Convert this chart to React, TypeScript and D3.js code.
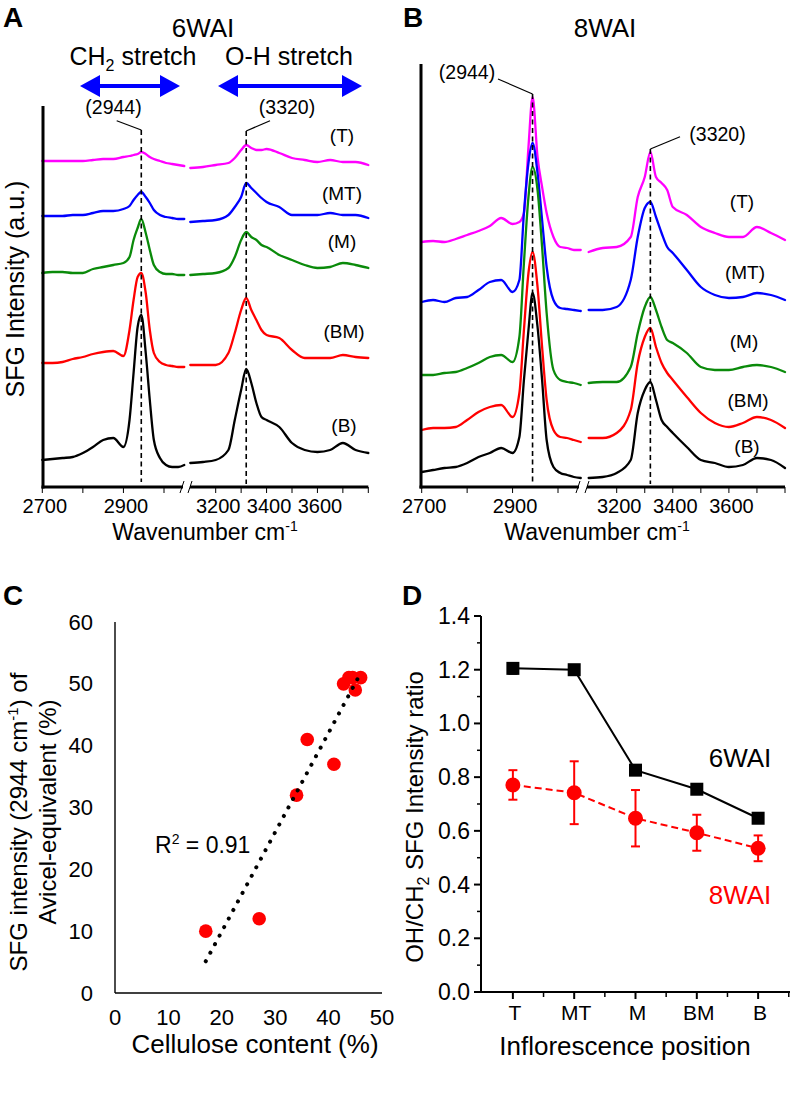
import React from "react";
import * as d3 from "d3";

const FONT = "'Liberation Sans', Arial, Helvetica, sans-serif";

// ---------- Panels A & B: SFG spectra (wavenumber samples, a.u. heights) ----------
const LEFT_WN = [2700, 2725, 2750, 2775, 2800, 2825, 2850, 2875, 2900, 2915, 2925, 2935, 2944, 2955, 2965, 2975, 2990, 3005, 3020, 3035, 3050];
const RIGHT_WN = [3100, 3150, 3200, 3250, 3275, 3300, 3320, 3340, 3360, 3380, 3400, 3450, 3500, 3550, 3600, 3650, 3700, 3750, 3800];

const SERIES_NAMES = ["(T)", "(MT)", "(M)", "(BM)", "(B)"];
const SERIES_COLORS = ["#ff00ff", "#0000ff", "#0a8a0a", "#ff0000", "#000000"];

// 6WAI (panel A)
const A_T_L = [326, 326, 326, 326, 326, 327, 328, 328, 330, 331, 332, 333, 335, 333, 330, 328, 326, 324, 323, 322, 321];
const A_T_R = [319, 320, 322, 324, 329, 337, 342, 339, 337, 337, 338, 334, 329, 327, 325, 327, 325, 325, 322];
const A_MT_L = [271, 271, 271, 272, 272, 274, 276, 276, 278, 281, 287, 292, 295, 290, 284, 277, 272, 270, 269, 268, 268];
const A_MT_R = [265, 266, 267, 272, 280, 290, 304, 299, 294, 289, 285, 280, 272, 272, 272, 274, 272, 272, 269];
const A_M_L = [214, 215, 215, 214, 214, 218, 220, 222, 224, 230, 247, 259, 268, 254, 237, 222, 215, 213, 213, 212, 212];
const A_M_R = [212, 213, 214, 219, 230, 247, 255, 250, 247, 242, 240, 232, 227, 222, 219, 220, 224, 222, 219];
const A_BM_L = [124, 124, 125, 128, 130, 133, 135, 136, 131, 157, 187, 210, 214, 194, 157, 134, 125, 122, 121, 120, 120];
const A_BM_R = [122, 122, 122, 134, 154, 177, 189, 177, 167, 157, 152, 149, 137, 129, 129, 129, 132, 130, 129];
const A_B_L = [27, 28, 29, 30, 34, 40, 47, 49, 40, 67, 114, 160, 172, 134, 87, 47, 29, 22, 20, 20, 22];
const A_B_R = [24, 25, 27, 37, 67, 97, 118, 104, 84, 70, 67, 60, 44, 37, 35, 37, 44, 37, 34];

// 8WAI (panel B)
const B_T_L = [245, 246, 245, 248, 252, 256, 261, 269, 263, 265, 274, 340, 390, 330, 300, 274, 250, 240, 239, 237, 237];
const B_T_R = [235, 239, 240, 250, 290, 310, 335, 310, 304, 297, 280, 272, 260, 254, 250, 250, 260, 254, 247];
const B_MT_L = [185, 187, 185, 189, 190, 197, 205, 207, 195, 207, 274, 324, 344, 314, 267, 220, 187, 179, 178, 177, 176];
const B_MT_R = [177, 177, 180, 207, 250, 279, 285, 270, 254, 240, 234, 217, 200, 192, 189, 190, 194, 192, 187];
const B_M_L = [112, 112, 114, 115, 119, 124, 130, 132, 125, 150, 224, 290, 320, 297, 240, 174, 117, 107, 105, 104, 102];
const B_M_R = [104, 105, 105, 120, 154, 180, 190, 177, 160, 147, 144, 134, 120, 117, 117, 120, 122, 120, 115];
const B_BM_L = [57, 59, 59, 60, 67, 75, 80, 82, 70, 94, 157, 214, 235, 200, 140, 87, 57, 50, 49, 47, 45];
const B_BM_R = [49, 49, 54, 77, 124, 150, 159, 140, 124, 114, 107, 90, 74, 64, 60, 64, 70, 67, 59];
const B_B_L = [15, 17, 19, 20, 24, 30, 34, 39, 34, 50, 107, 157, 194, 160, 107, 47, 20, 14, 12, 10, 9];
const B_B_R = [9, 10, 14, 27, 74, 97, 105, 87, 67, 60, 54, 40, 27, 24, 20, 22, 29, 27, 19];

const LEFT_TICKS = [2700, 2800, 2900, 3000];
const RIGHT_TICKS = [3200, 3300, 3400, 3500, 3600, 3700, 3800];
const LEFT_LABELS = [2700, 2900];
const RIGHT_LABELS = [3200, 3400, 3600];
const PEAKS = [2944, 3320];

// ---------- Panel C ----------
const C_CELLULOSE = [17, 27, 34, 36, 41, 42.8, 43.8, 45, 46, 44.5];
const C_SFG = [10, 12, 32, 41, 37, 50, 51, 49, 51, 51];
const C_XTICKS = [0, 10, 20, 30, 40, 50];
const C_YTICKS = [0, 10, 20, 30, 40, 50, 60];

// ---------- Panel D ----------
const POSITIONS = ["T", "MT", "M", "BM", "B"];
const WAI6 = [1.205, 1.2, 0.826, 0.755, 0.647];
const WAI6_ERR = [0.02, 0.015, 0.01, 0.01, 0.01];
const WAI8 = [0.771, 0.742, 0.647, 0.593, 0.535];
const WAI8_ERR = [0.055, 0.117, 0.105, 0.067, 0.048];
const D_YTICKS = [0, 0.2, 0.4, 0.6, 0.8, 1.0, 1.2, 1.4];

type Lin = d3.ScaleLinear<number, number>;

function Spectrum({ xl, xr, y, left, right, color }: { xl: Lin; xr: Lin; y: Lin; left: number[]; right: number[]; color: string }) {
  const line = d3.line<[number, number]>().curve(d3.curveMonotoneX);
  const lp = line(LEFT_WN.map((w, i) => [xl(w), y(left[i])] as [number, number])) || "";
  const rp = line(RIGHT_WN.map((w, i) => [xr(w), y(right[i])] as [number, number])) || "";
  return (
    <g fill="none" stroke={color} strokeWidth={2.3} strokeLinejoin="round" strokeLinecap="round">
      <path d={lp} />
      <path d={rp} />
    </g>
  );
}

function DoubleArrow({ x1, x2, y }: { x1: number; x2: number; y: number }) {
  const hl = 20, hh = 11;
  return (
    <g fill="#0000ff" stroke="none">
      <rect x={x1 + hl - 2} y={y - 2} width={x2 - x1 - 2 * hl + 4} height={4} />
      <polygon points={`${x1},${y} ${x1 + hl},${y - hh} ${x1 + hl},${y + hh}`} />
      <polygon points={`${x2},${y} ${x2 - hl},${y - hh} ${x2 - hl},${y + hh}`} />
    </g>
  );
}

type SpecCfg = {
  axisX: number;
  axisTop: number;
  axisY: number;
  xl: Lin;
  xr: Lin;
  y: Lin;
  breakL: number;
  breakR: number;
  data: [number[], number[]][];
  dash: [number, number][];
  labels: [number, number][];
};

function SpectraPanel({ cfg }: { cfg: SpecCfg }) {
  const { axisX, axisTop, axisY, xl, xr, y, breakL, breakR } = cfg;
  const xEnd = xr(3800);
  return (
    <g>
      {cfg.data.map((d, i) => (
        <Spectrum key={i} xl={xl} xr={xr} y={y} left={d[0]} right={d[1]} color={SERIES_COLORS[i]} />
      ))}
      <line x1={xl(PEAKS[0])} x2={xl(PEAKS[0])} y1={cfg.dash[0][0]} y2={cfg.dash[0][1]} stroke="#000" strokeWidth={1.6} strokeDasharray="5 3.5" />
      <line x1={xr(PEAKS[1])} x2={xr(PEAKS[1])} y1={cfg.dash[1][0]} y2={cfg.dash[1][1]} stroke="#000" strokeWidth={1.6} strokeDasharray="5 3.5" />
      <line x1={axisX} x2={axisX} y1={axisTop} y2={axisY + 1.5} stroke="#000" strokeWidth={3} />
      <line x1={axisX - 1.5} x2={breakL} y1={axisY} y2={axisY} stroke="#000" strokeWidth={3} />
      <line x1={breakR} x2={xEnd} y1={axisY} y2={axisY} stroke="#000" strokeWidth={3} />
      <line x1={breakL - 3} x2={breakL + 1} y1={axisY + 6} y2={axisY - 6} stroke="#000" strokeWidth={1} />
      <line x1={breakR - 2} x2={breakR + 2} y1={axisY + 6} y2={axisY - 6} stroke="#000" strokeWidth={1} />
      {LEFT_TICKS.map((t) => (
        <line key={"lt" + t} x1={xl(t)} x2={xl(t)} y1={axisY} y2={axisY + 6} stroke="#000" strokeWidth={1} />
      ))}
      {RIGHT_TICKS.map((t) => (
        <line key={"rt" + t} x1={xr(t)} x2={xr(t)} y1={axisY} y2={axisY + 6} stroke="#000" strokeWidth={1} />
      ))}
      {LEFT_LABELS.map((t) => (
        <text key={"ll" + t} x={xl(t) + 2.5} y={axisY + 26} fontSize={20} textAnchor="middle">{t}</text>
      ))}
      {RIGHT_LABELS.map((t) => (
        <text key={"rl" + t} x={xr(t) + 2.5} y={axisY + 26} fontSize={20} textAnchor="middle">{t}</text>
      ))}
      {cfg.labels.map((p, i) => (
        <text key={"sl" + i} x={p[0]} y={p[1]} fontSize={19} textAnchor="middle">{SERIES_NAMES[i]}</text>
      ))}
    </g>
  );
}

export default function App() {
  const aY = d3.scaleLinear().domain([0, 382]).range([487, 105]);
  const aXL = d3.scaleLinear().domain([2700, 3000]).range([42.3, 164]);
  const aXR = d3.scaleLinear().domain([3200, 3800]).range([215.7, 368.3]);
  const cfgA: SpecCfg = {
    axisX: 43, axisTop: 106, axisY: 487, xl: aXL, xr: aXR, y: aY,
    breakL: 183, breakR: 190,
    data: [[A_T_L, A_T_R], [A_MT_L, A_MT_R], [A_M_L, A_M_R], [A_BM_L, A_BM_R], [A_B_L, A_B_R]],
    dash: [[130, 482], [131, 484]],
    labels: [[342, 142], [342, 200], [342, 248], [344, 338], [344, 432]],
  };
  const bY = d3.scaleLinear().domain([0, 423]).range([487, 64]);
  const bXL = d3.scaleLinear().domain([2700, 3000]).range([421.7, 558]);
  const bXR = d3.scaleLinear().domain([3200, 3800]).range([616.7, 785]);
  const cfgB: SpecCfg = {
    axisX: 421, axisTop: 64, axisY: 487, xl: bXL, xr: bXR, y: bY,
    breakL: 579, breakR: 587,
    data: [[B_T_L, B_T_R], [B_MT_L, B_MT_R], [B_M_L, B_M_R], [B_BM_L, B_BM_R], [B_B_L, B_B_R]],
    dash: [[94, 484], [149, 484]],
    labels: [[742, 208], [745, 279], [744, 348], [748, 407], [747, 453]],
  };

  const cX = d3.scaleLinear().domain([0, 50]).range([115, 382]);
  const cY = d3.scaleLinear().domain([0, 60]).range([993, 622]);
  const mx = d3.mean(C_CELLULOSE)!;
  const my = d3.mean(C_SFG)!;
  let sxy = 0, sxx = 0;
  C_CELLULOSE.forEach((x, i) => { sxy += (x - mx) * (C_SFG[i] - my); sxx += (x - mx) * (x - mx); });
  const slope = sxy / sxx;
  const icpt = my - slope * mx;
  const [xmin, xmax] = d3.extent(C_CELLULOSE) as [number, number];
  const fitEnd = xmax - 0.5;

  const dY = d3.scaleLinear().domain([0, 1.4]).range([992, 616]);
  const dX = d3.scalePoint<string>().domain(POSITIONS).range([481, 790]).padding(0.52);
  const step = dX.step();
  const line6 = d3.line<number>().x((_, i) => dX(POSITIONS[i])!).y((v) => dY(v));
  const minorY = d3.range(1, 14, 2).map((k) => k / 10);
  const minorX = d3.range(0, 5).map((i) => dX(POSITIONS[i])! + step / 2);

  return (
    <svg width={793} height={1106} style={{ position: "absolute", left: 0, top: 0, background: "#fff" }} fontFamily={FONT} fill="#000">
      <rect width={793} height={1106} fill="#fff" />
      {/* ===== Panel A ===== */}
      <text x={3} y={27} fontSize={28} fontWeight="bold">A</text>
      <text x={203} y={37} fontSize={26} textAnchor="middle">6WAI</text>
      <text x={133} y={65} fontSize={25} textAnchor="middle">CH<tspan dy={6} fontSize={16}>2</tspan><tspan dy={-6}> stretch</tspan></text>
      <text x={289} y={65} fontSize={25} textAnchor="middle">O-H stretch</text>
      <DoubleArrow x1={80} x2={180} y={86} />
      <DoubleArrow x1={218} x2={362} y={86} />
      <SpectraPanel cfg={cfgA} />
      <text x={113.5} y={114} fontSize={19.5} textAnchor="middle">(2944)</text>
      <line x1={116.7} y1={120.7} x2={aXL(PEAKS[0])} y2={130} stroke="#000" strokeWidth={1.2} />
      <text x={287} y={114} fontSize={19.5} textAnchor="middle">(3320)</text>
      <line x1={aXR(PEAKS[1])} y1={131} x2={270} y2={120.7} stroke="#000" strokeWidth={1.2} />
      <text transform="translate(24,289) rotate(-90)" fontSize={25} textAnchor="middle">SFG Intensity (a.u.)</text>
      <text x={205} y={540} fontSize={23} textAnchor="middle">Wavenumber cm<tspan dy={-9} fontSize={14}>-1</tspan></text>

      {/* ===== Panel B ===== */}
      <text x={403} y={27} fontSize={28} fontWeight="bold">B</text>
      <text x={605} y={37} fontSize={26} textAnchor="middle">8WAI</text>
      <SpectraPanel cfg={cfgB} />
      <text x={467} y={79} fontSize={19.5} textAnchor="middle">(2944)</text>
      <line x1={498} y1={79} x2={bXL(PEAKS[0])} y2={94} stroke="#000" strokeWidth={1.2} />
      <text x={717.5} y={141} fontSize={19.5} textAnchor="middle">(3320)</text>
      <line x1={bXR(PEAKS[1])} y1={149} x2={680} y2={136.7} stroke="#000" strokeWidth={1.2} />
      <text x={597} y={540} fontSize={23} textAnchor="middle">Wavenumber cm<tspan dy={-9} fontSize={14}>-1</tspan></text>

      {/* ===== Panel C ===== */}
      <text x={3} y={605} fontSize={28} fontWeight="bold">C</text>
      <line x1={cX(0)} x2={cX(0)} y1={cY(60)} y2={cY(0)} stroke="#000" strokeWidth={1.4} />
      <line x1={cX(0)} x2={cX(50)} y1={cY(0)} y2={cY(0)} stroke="#000" strokeWidth={1.4} />
      {C_YTICKS.map((t) => (
        <text key={"cy" + t} x={93} y={cY(t) + 7.5} fontSize={22} textAnchor="end">{t}</text>
      ))}
      {C_XTICKS.map((t) => (
        <text key={"cx" + t} x={cX(t)} y={1025} fontSize={22} textAnchor="middle">{t}</text>
      ))}
      {C_CELLULOSE.map((x, i) => (
        <circle key={"cp" + i} cx={cX(x)} cy={cY(C_SFG[i])} r={6.8} fill="#ff0000" />
      ))}
      <line x1={cX(xmin)} y1={cY(slope * xmin + icpt)} x2={cX(fitEnd)} y2={cY(slope * fitEnd + icpt)} stroke="#000" strokeWidth={4} strokeLinecap="round" strokeDasharray="0.1 9.6" />
      <text x={155} y={853} fontSize={23}>R<tspan dy={-9} fontSize={14}>2</tspan><tspan dy={9}> = 0.91</tspan></text>
      <text transform="translate(27,822) rotate(-90)" fontSize={24} textAnchor="middle">SFG intensity (2944 cm<tspan dy={-9} fontSize={15}>-1</tspan><tspan dy={9}>) of</tspan></text>
      <text transform="translate(56,812) rotate(-90)" fontSize={24} textAnchor="middle">Avicel-equivalent (%)</text>
      <text x={255} y={1053} fontSize={26} textAnchor="middle">Cellulose content (%)</text>

      {/* ===== Panel D ===== */}
      <text x={402} y={605} fontSize={28} fontWeight="bold">D</text>
      <line x1={dX.range()[0]} x2={dX.range()[0]} y1={dY(1.4)} y2={dY(0) + 1} stroke="#000" strokeWidth={2} />
      <line x1={dX.range()[0] - 1} x2={790} y1={dY(0)} y2={dY(0)} stroke="#000" strokeWidth={2} />
      {D_YTICKS.map((t) => (
        <g key={"dy" + t}>
          <line x1={481 - 7} x2={481} y1={dY(t)} y2={dY(t)} stroke="#000" strokeWidth={2} />
          <text x={470} y={dY(t) + 8} fontSize={23} textAnchor="end">{t.toFixed(1)}</text>
        </g>
      ))}
      {minorY.map((t) => (
        <line key={"dmy" + t} x1={481 - 4} x2={481} y1={dY(t)} y2={dY(t)} stroke="#000" strokeWidth={1.5} />
      ))}
      {POSITIONS.map((p) => (
        <g key={"dx" + p}>
          <line x1={dX(p)!} x2={dX(p)!} y1={dY(0)} y2={dY(0) + 7} stroke="#000" strokeWidth={2} />
          <text x={dX(p)! + 2} y={1020} fontSize={21} textAnchor="middle">{p}</text>
        </g>
      ))}
      {minorX.map((x, i) => (
        <line key={"dmx" + i} x1={x} x2={x} y1={dY(0)} y2={dY(0) + 5} stroke="#000" strokeWidth={1.5} />
      ))}
      <path d={line6(WAI8) || ""} fill="none" stroke="#ff0000" strokeWidth={2} strokeDasharray="7 4" />
      {WAI8.map((v, i) => {
        const x = dX(POSITIONS[i])!;
        return (
          <g key={"w8" + i} stroke="#ff0000" strokeWidth={2}>
            <line x1={x} x2={x} y1={dY(v - WAI8_ERR[i])} y2={dY(v + WAI8_ERR[i])} />
            <line x1={x - 4.5} x2={x + 4.5} y1={dY(v - WAI8_ERR[i])} y2={dY(v - WAI8_ERR[i])} />
            <line x1={x - 4.5} x2={x + 4.5} y1={dY(v + WAI8_ERR[i])} y2={dY(v + WAI8_ERR[i])} />
            <circle cx={x} cy={dY(v)} r={7.5} fill="#ff0000" stroke="none" />
          </g>
        );
      })}
      <path d={line6(WAI6) || ""} fill="none" stroke="#000" strokeWidth={2} />
      {WAI6.map((v, i) => {
        const x = dX(POSITIONS[i])!;
        return (
          <g key={"w6" + i} stroke="#000" strokeWidth={2}>
            <line x1={x} x2={x} y1={dY(v - WAI6_ERR[i])} y2={dY(v + WAI6_ERR[i])} />
            <line x1={x - 4.5} x2={x + 4.5} y1={dY(v - WAI6_ERR[i])} y2={dY(v - WAI6_ERR[i])} />
            <line x1={x - 4.5} x2={x + 4.5} y1={dY(v + WAI6_ERR[i])} y2={dY(v + WAI6_ERR[i])} />
            <rect x={x - 6.5} y={dY(v) - 6.5} width={13} height={13} fill="#000" stroke="none" />
          </g>
        );
      })}
      <text x={740} y={767} fontSize={26} textAnchor="middle">6WAI</text>
      <text x={740} y={904} fontSize={26} textAnchor="middle" fill="#ff0000">8WAI</text>
      <text transform="translate(423,817) rotate(-90)" fontSize={24} textAnchor="middle">OH/CH<tspan dy={6} fontSize={16}>2</tspan><tspan dy={-6}> SFG Intensity ratio</tspan></text>
      <text x={625} y={1055} fontSize={26} textAnchor="middle">Inflorescence position</text>
    </svg>
  );
}
